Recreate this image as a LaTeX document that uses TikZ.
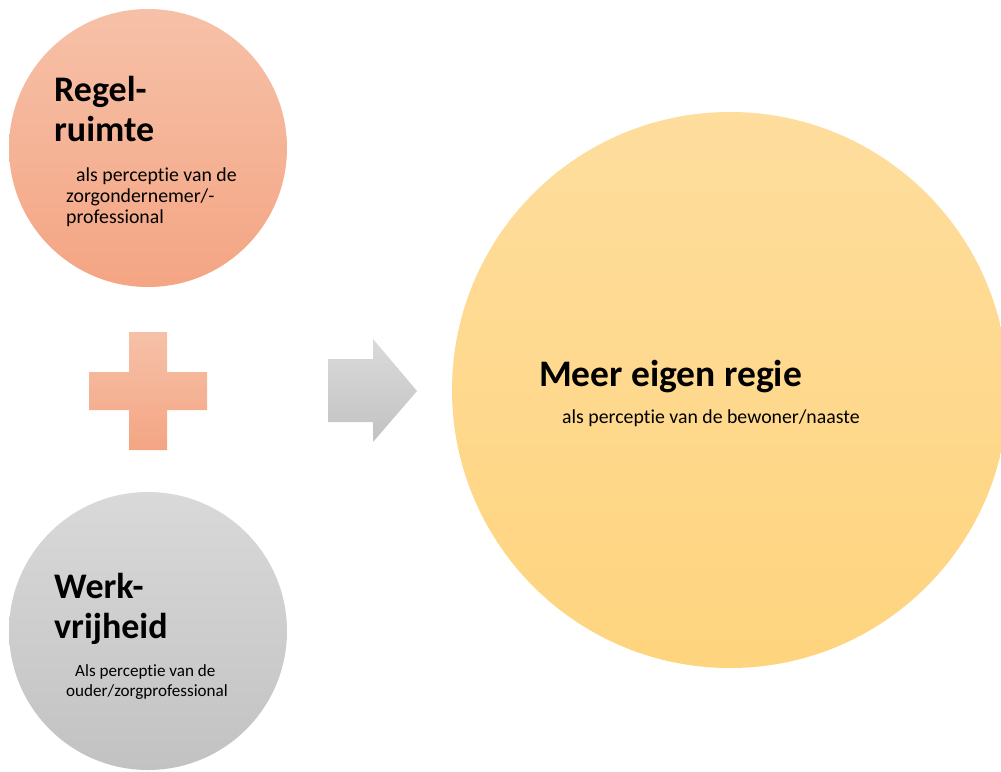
\documentclass[tikz,border=0pt]{standalone}
\usepackage{fontspec}
\setmainfont{Carlito}[Ligatures=NoCommon]
\definecolor{peachT}{RGB}{246,193,168}
\definecolor{peachB}{RGB}{244,165,131}
\definecolor{grayT}{RGB}{217,217,217}
\definecolor{grayB}{RGB}{194,194,194}
\definecolor{yelT}{RGB}{254,221,157}
\definecolor{yelB}{RGB}{254,212,126}
\tikzset{
  disc/.style={circle, draw=none, inner sep=0pt, minimum size=#1},
  headtxt/.style={anchor=base west, inner sep=0pt, font=\fontsize{36}{40}\selectfont\bfseries},
  bighead/.style={anchor=base west, inner sep=0pt, font=\fontsize{37.5}{42}\selectfont\bfseries},
  subtxt/.style={anchor=base west, inner sep=0pt, font=\fontsize{19.8}{21}\selectfont},
  smalltxt/.style={anchor=base west, inner sep=0pt, font=\fontsize{17.1}{20}\selectfont},
}
\begin{document}
\begin{tikzpicture}[x=1pt,y=-1pt]
\useasboundingbox (0,0) rectangle (1001,771);
\clip (0,0) rectangle (1001,771);
% circles
\node[disc=278pt, top color=peachT, bottom color=peachB] (regel) at (148,148) {};
\node[disc=278pt, top color=grayT, bottom color=grayB] (werk) at (148,631) {};
\node[disc=556pt, top color=yelT, bottom color=yelB] (regie) at (730,390) {};
% plus
\shade[top color=peachT, bottom color=peachB]
  (129,332) -- (167,332) -- (167,372) -- (207,372) -- (207,410) -- (167,410)
  -- (167,450) -- (129,450) -- (129,410) -- (89,410) -- (89,372) -- (129,372) -- cycle;
% arrow
\shade[top color=grayT!97!white, bottom color=grayB]
  (328,359) -- (373,359) -- (373,339) -- (417,391) -- (373,442) -- (373,422) -- (328,422) -- cycle;
% texts
\node[headtxt] (t1a) at (54,101) {Regel-};
\node[headtxt] (t1b) at (54,141) {ruimte};
\node[subtxt] (s1a) at (76,181) {als perceptie van de};
\node[subtxt] (s1b) at (66,202) {zorgondernemer/-};
\node[subtxt] (s1c) at (66,223) {professional};
\node[headtxt] (t2a) at (54,598) {Werk-};
\node[headtxt] (t2b) at (54,638) {vrijheid};
\node[smalltxt] (s2a) at (75,676) {Als perceptie van de};
\node[smalltxt] (s2b) at (66,696) {ouder/zorgprofessional};
\node[bighead] (t3) at (539,386) {Meer eigen regie};
\node[subtxt] (s3) at (562,423) {als perceptie van de bewoner/naaste};
\end{tikzpicture}
\end{document}
